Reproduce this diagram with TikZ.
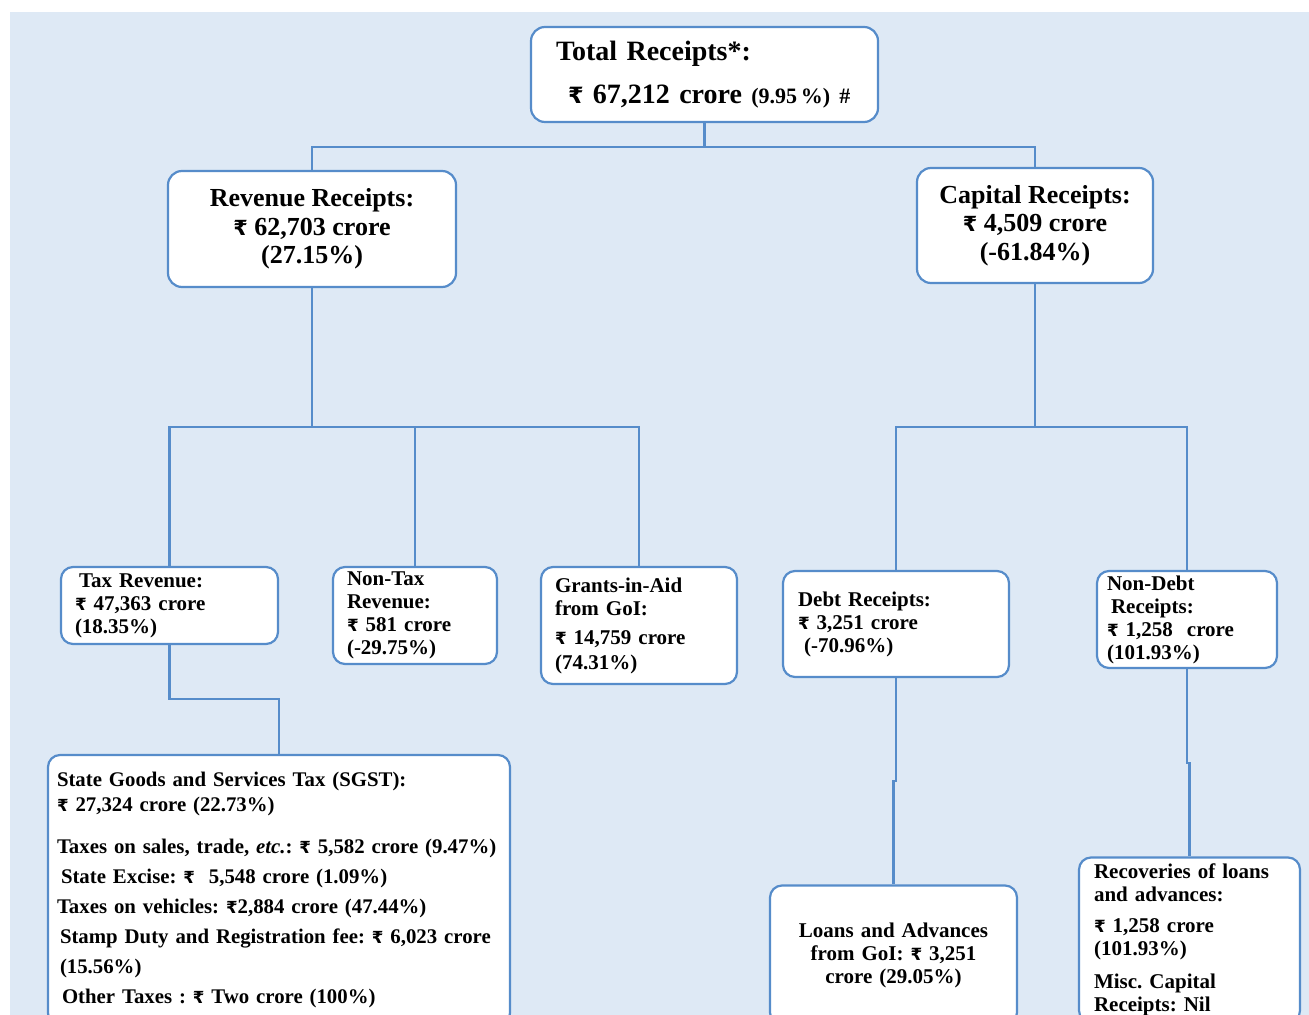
\documentclass[tikz,border=0pt]{standalone}
\usepackage{fontspec}
\setmainfont{Liberation Serif}
\newfontfamily\rupfont[Scale=0.8]{DejaVu Sans}
\newcommand{\rs}{{\rupfont ₹}}
\usetikzlibrary{positioning,calc}
\definecolor{bgblue}{RGB}{222,233,245}
\definecolor{lineblue}{RGB}{86,140,202}
\tikzset{bigbox/.style={draw=lineblue, line width=1.1pt, rounded corners=7pt, fill=white, align=center, inner sep=0pt, font=\bfseries\fontsize{13}{14.2}\selectfont}, smallbox/.style={draw=lineblue, line width=1.1pt, rounded corners=6pt, fill=white, align=left, inner xsep=7pt, inner ysep=0pt, font=\bfseries\fontsize{10.5}{11.5}\selectfont}, link/.style={draw=lineblue, line width=1.1pt}}

\begin{document}
\frenchspacing
\begin{tikzpicture}[x=0.5pt, y=-0.5pt]
\useasboundingbox (0,0) rectangle (1309,1015);
\fill[bgblue] (10,12) rectangle (1309,1015);
\node[bigbox, minimum width=173.5pt, minimum height=47.5pt, align=left, text width=160pt, inner xsep=6.75pt, font=\bfseries\fontsize{14}{21.5}\selectfont] (total) at (704.5,74.5) {\hspace*{5.75pt}Total Receipts*:\\\hspace*{11.75pt}\rs\ 67,212 crore {\fontsize{11}{21.5}\selectfont(9.95\,\%) \#}};
\node[bigbox, minimum width=144pt, minimum height=58pt] (revenue) at (312,229) {Revenue Receipts:\\\rs\ 62,703 crore\\(27.15\%)};
\node[bigbox, minimum width=118pt, minimum height=57.5pt] (capital) at (1035,225.5) {Capital Receipts:\\\rs\ 4,509 crore\\(-61.84\%)};
\node[smallbox, text width=94.5pt, minimum height=38.5pt] (taxrev) at (169.5,605.5) {\hspace*{2pt}Tax Revenue:\\\rs\ 47,363 crore\\(18.35\%)};
\node[smallbox, text width=68pt, minimum height=48.5pt] (nontax) at (415,615.5) {Non-Tax\\Revenue:\\\rs\ 581 crore\\(-29.75\%)};
\node[smallbox, text width=84pt, minimum height=58.5pt] (grants) at (639,625.5) {Grants-in-Aid\\from GoI:\\[3pt]\rs\ 14,759 crore\\[1pt](74.31\%)};
\node[smallbox, text width=98pt, inner xsep=7.5pt, minimum height=53pt] (debt) at (896,624) {Debt Receipts:\\\rs\ 3,251 crore\\\hspace*{3pt}(-70.96\%)};
\node[smallbox, text width=80pt, inner xsep=5pt, minimum height=48.5pt] (nondebt) at (1187,619.5) {Non-Debt\\\hspace*{2pt}Receipts:\\\rs\ 1,258\ \ crore\\(101.93\%)};
\node[smallbox, text width=224pt, inner xsep=3.5pt, minimum height=135pt, font=\bfseries\fontsize{10.4}{15}\selectfont] (sgst) at (279,890) {\hspace*{1pt}State Goods and Services Tax (SGST):\\[-2.5pt]\hspace*{1pt}\rs\ 27,324 crore (22.73\%)\\[6pt]\hspace*{1pt}Taxes on sales, trade, \textit{etc.}: \rs\ 5,582 crore (9.47\%)\\\hspace*{3pt}State Excise: \rs\ \ 5,548 crore (1.09\%)\\\hspace*{1pt}Taxes on vehicles: \rs2,884 crore (47.44\%)\\\hspace*{2.5pt}Stamp Duty and Registration fee: \rs\ 6,023 crore\\\hspace*{2.5pt}(15.56\%)\\\hspace*{3.5pt}Other Taxes : \rs\ Two crore (100\%)};
\node[smallbox, align=center, text width=109.5pt, minimum height=69.5pt] (loans) at (893.5,955) {Loans and Advances\\from GoI: \rs\ 3,251\\crore (29.05\%)};
\node[smallbox, text width=95.5pt, inner xsep=7.5pt, minimum height=82.5pt] (recov) at (1189.5,940) {Recoveries of loans\\and advances:\\[4pt]\rs\ 1,258 crore\\(101.93\%)\\[5pt]Misc. Capital\\Receipts: Nil};
\draw[link] (total.south) -- ++(0,24) coordinate (tj) -| (revenue.north);
\draw[link] (tj) -| (capital.north);
\draw[link] (revenue.south) -- ++(0,139) coordinate (rj) -| (taxrev.north);
\draw[link] (rj) -| (nontax.north);
\draw[link] (rj) -| (grants.north);
\draw[link] (capital.south) -- ++(0,143) coordinate (cj) -| (debt.north);
\draw[link] (cj) -| (nondebt.north);
\draw[link] (taxrev.south) -- ++(0,54) -| (sgst.north);
\draw[link] (debt.south) -- ++(0,103) -| (loans.north);
\draw[link] (nondebt.south) -- ++(0,94) -| (recov.north);
\end{tikzpicture}
\end{document}
